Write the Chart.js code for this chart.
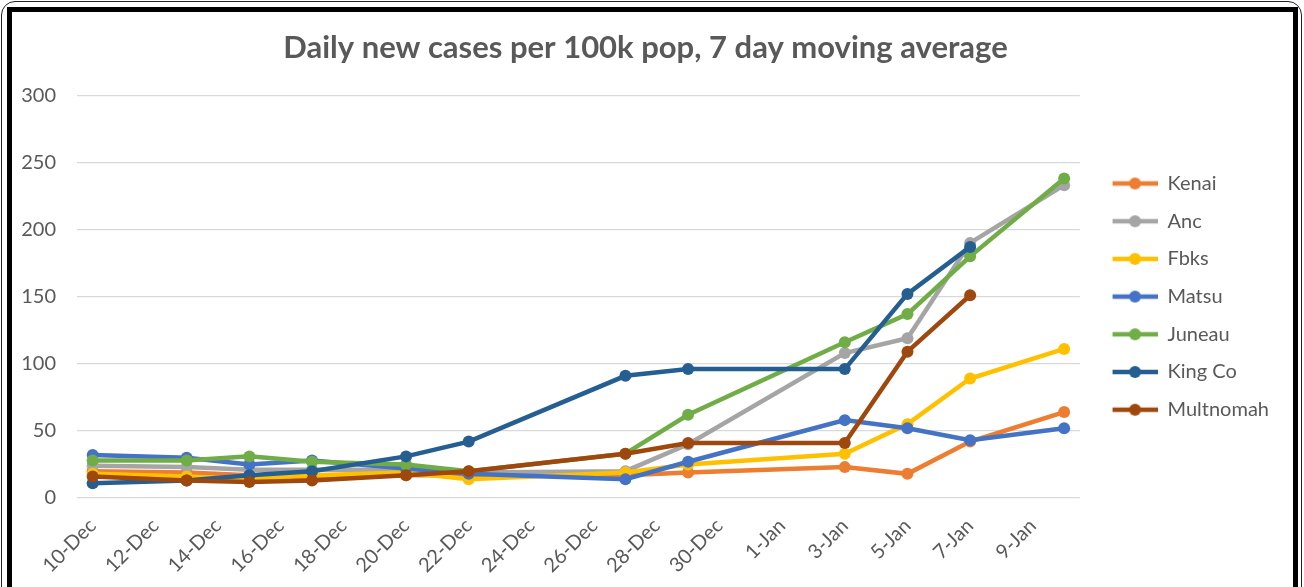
<!DOCTYPE html>
<html>
<head>
<meta charset="utf-8">
<script src="https://cdn.jsdelivr.net/npm/chart.js@4"></script>
<style>
  body { margin: 0; background: #fff; width: 1304px; height: 587px; overflow: hidden; position: relative; }
  #outer { position: absolute; left: 1px; top: 1px; width: 1299px; height: 800px; border: 1.5px solid #222; border-radius: 14px; }
  #frame { position: absolute; left: 7px; top: 7px; width: 1281px; height: 800px; border: 5px solid #000; background: #fff; }
  #wrap { position: absolute; left: 12px; top: 12px; width: 1281px; height: 575px; }
</style>
</head>
<body>
<div id="outer"></div>
<div id="frame"></div>
<div id="wrap"><canvas id="myChart"></canvas></div>
<script>
// Category axis: one slot per day
let dayLabels = ['10-Dec', '11-Dec', '12-Dec', '13-Dec', '14-Dec', '15-Dec', '16-Dec', '17-Dec',
    '18-Dec', '19-Dec', '20-Dec', '21-Dec', '22-Dec', '23-Dec', '24-Dec', '25-Dec', '26-Dec',
    '27-Dec', '28-Dec', '29-Dec', '30-Dec', '31-Dec', '1-Jan', '2-Jan', '3-Jan', '4-Jan',
    '5-Jan', '6-Jan', '7-Jan', '8-Jan', '9-Jan', '10-Jan'];

// Days that have a reading
let sampleDates = ['10-Dec', '13-Dec', '15-Dec', '17-Dec', '20-Dec', '22-Dec', '27-Dec', '29-Dec',
    '3-Jan', '5-Jan', '7-Jan', '10-Jan'];

// Daily new cases per 100k, 7 day moving average
let kenai     = [20, 19, 17, 15, 17, 17, 17, 19, 23, 18, 42, 64];
let anc       = [24, 23, 21, 21, 21, 19, 20, 40, 108, 119, 190, 233];
let fbks      = [18, 16, 14, 17, 19, 14, 19, 25, 33, 55, 89, 111];
let matsu     = [32, 30, 25, 28, 22, 18, 14, 27, 58, 52, 43, 52];
let juneau    = [28, 28, 31, 27, 25, 20, 33, 62, 116, 137, 180, 238];
let kingCo    = [11, 13, 17, 20, 31, 42, 91, 96, 96, 152, 187, null];
let multnomah = [16, 13, 12, 13, 17, 20, 33, 41, 41, 109, 151, null];

let seriesNames  = ['Kenai', 'Anc', 'Fbks', 'Matsu', 'Juneau', 'King Co', 'Multnomah'];
let seriesValues = [kenai, anc, fbks, matsu, juneau, kingCo, multnomah];
let seriesColors = ['#ED7D31', '#A5A5A5', '#FFC000', '#4472C4', '#70AD47', '#255E91', '#9E480E'];

let yTicks = [0, 50, 100, 150, 200, 250, 300];

let textGray = '#595959';
let fontFamily = 'Lato, "Liberation Sans", sans-serif';

// legend swatch: short line with a dot, like Excel
function makeSwatch(color) {
    let c = document.createElement('canvas');
    c.width = 60;
    c.height = 16;
    let g = c.getContext('2d');
    g.strokeStyle = color;
    g.lineWidth = 4.5;
    g.beginPath();
    g.moveTo(15, 8);
    g.lineTo(60, 8);
    g.stroke();
    g.fillStyle = color;
    g.beginPath();
    g.arc(37.5, 8, 6, 0, Math.PI * 2);
    g.fill();
    return c;
}

let swatches = seriesColors.map(makeSwatch);

let datasets = seriesNames.map(function(name, i) {
    let points = [];
    sampleDates.forEach(function(d, j) {
        if (seriesValues[i][j] !== null) {
            points.push({ x: d, y: seriesValues[i][j] });
        }
    });
    return {
        label: name,
        data: points,
        borderColor: seriesColors[i],
        backgroundColor: seriesColors[i],
        borderWidth: 4.5,
        pointRadius: 6,
        pointBorderWidth: 0,
        pointHoverRadius: 6,
        tension: 0,
        order: seriesNames.length - i
    };
});

let ctx = document.getElementById('myChart').getContext('2d');
let myChart = new Chart(ctx, {
    type: 'line',
    data: {
        labels: dayLabels,
        datasets: datasets
    },
    options: {
        responsive: true,
        maintainAspectRatio: false,
        animation: false,
        layout: { padding: { left: 0, right: 14, top: 0, bottom: 0 } },
        plugins: {
            tooltip: { enabled: false },
            title: {
                display: true,
                text: 'Daily new cases per 100k pop, 7 day moving average',
                color: textGray,
                font: { family: fontFamily, size: 31, weight: 'bold' },
                padding: { top: 17, bottom: 29 }
            },
            legend: {
                position: 'right',
                fullSize: false,
                labels: {
                    usePointStyle: true,
                    pointStyleWidth: 60,
                    padding: 17.7,
                    color: textGray,
                    font: { family: fontFamily, size: 20 },
                    generateLabels: function(chart) {
                        return chart.data.datasets.map(function(ds, i) {
                            return {
                                text: ds.label,
                                pointStyle: swatches[i],
                                fillStyle: ds.borderColor,
                                strokeStyle: ds.borderColor,
                                lineWidth: 0,
                                fontColor: textGray,
                                hidden: false,
                                datasetIndex: i
                            };
                        });
                    }
                }
            }
        },
        scales: {
            x: {
                type: 'category',
                offset: true,
                grid: { display: false, drawTicks: false },
                border: { display: false },
                ticks: {
                    autoSkip: false,
                    minRotation: 45,
                    maxRotation: 45,
                    padding: 16,
                    color: textGray,
                    font: { family: fontFamily, size: 20 },
                    callback: function(value, index) {
                        return index % 2 === 0 ? dayLabels[index] : '';
                    }
                },
                afterFit: function(scale) { scale.height = 89; }
            },
            y: {
                min: 0,
                max: 300,
                afterBuildTicks: function(scale) {
                    scale.ticks = yTicks.map(function(v) { return { value: v }; });
                },
                grid: { color: '#D9D9D9', lineWidth: 1.3, drawTicks: false },
                border: { display: false },
                ticks: {
                    padding: 21,
                    color: textGray,
                    font: { family: fontFamily, size: 20 }
                },
                afterFit: function(scale) { scale.width = 65; }
            }
        }
    }
});
</script>
</body>
</html>
